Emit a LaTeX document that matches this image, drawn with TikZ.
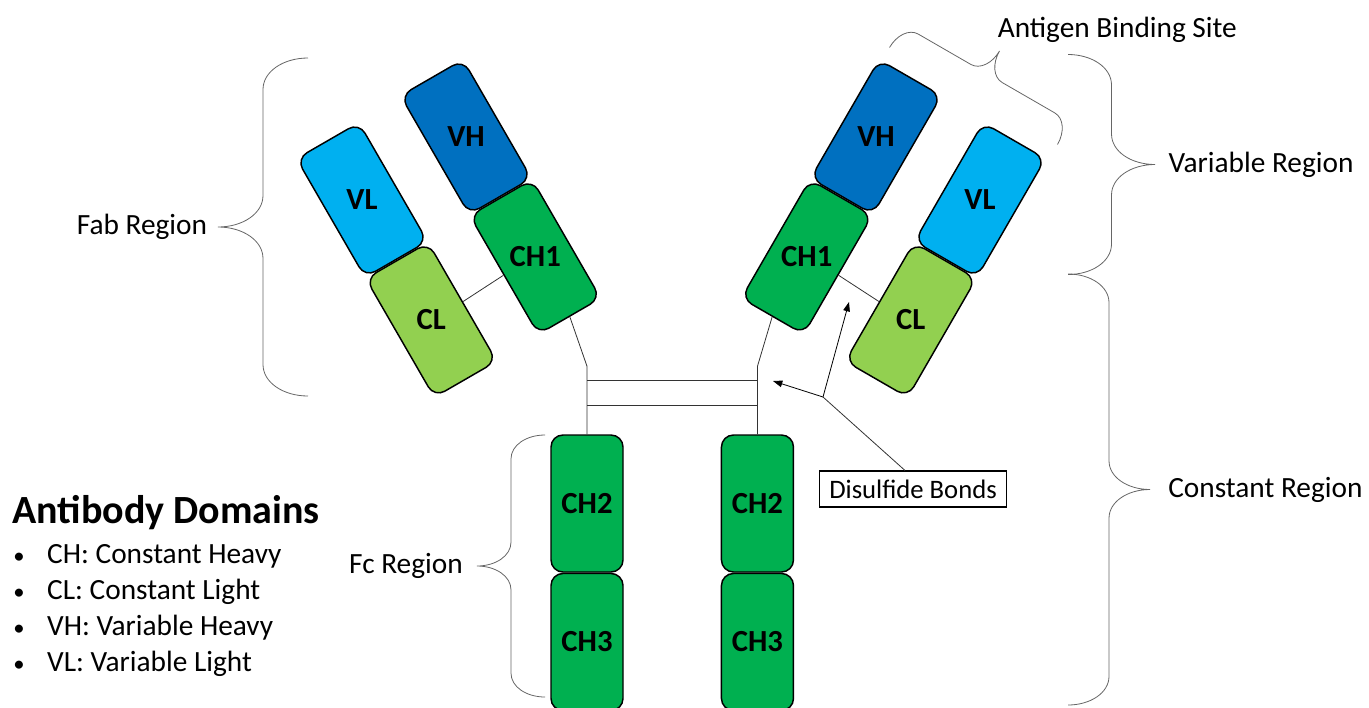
\documentclass[tikz,border=0pt]{standalone}
\usepackage{fontspec}
\setmainfont{Carlito}
\usetikzlibrary{calc}
\usetikzlibrary{positioning}
\usetikzlibrary{arrows.meta}

\definecolor{vhblue}{HTML}{0070C0}
\definecolor{vlblue}{HTML}{00B0F0}
\definecolor{chgreen}{HTML}{00B050}
\definecolor{clgreen}{HTML}{92D050}

\tikzset{
  abdomain/.style={draw=black, line width=1.1pt, rounded corners=9pt, inner sep=0pt,
    minimum width=54pt, minimum height=102.75pt, font=\fontsize{23}{26}\selectfont\bfseries},
  vh/.style={abdomain, fill=vhblue},
  vl/.style={abdomain, fill=vlblue},
  ch/.style={abdomain, fill=chgreen},
  cl/.style={abdomain, fill=clgreen},
  dtext/.style={inner sep=0pt, font=\fontsize{23}{26}\selectfont\bfseries},
  link/.style={draw=black!80, line width=0.6pt},
  tag/.style={inner sep=0pt, font=\fontsize{22}{26}\selectfont},
  pics/curly/.style args={#1 and #2}{code={
    \draw[black!60, line width=0.6pt] (0,{-#1})
      .. controls ({-0.55*#2},{-#1}) and ({-#2},{-#1+0.3*#2}) .. ({-#2},{-#1+0.7*#2})
      -- ({-#2},{-0.7*#2})
      .. controls ({-#2},{-0.3*#2}) and ({-1.45*#2},0) .. ({-2*#2},0)
      .. controls ({-1.45*#2},0) and ({-#2},{0.3*#2}) .. ({-#2},{0.7*#2})
      -- ({-#2},{#1-0.7*#2})
      .. controls ({-#2},{#1-0.3*#2}) and ({-0.55*#2},{#1}) .. (0,{#1});
    \coordinate (-tip) at ({-2*#2},0);
  }},
}

\begin{document}
\begin{tikzpicture}[x=0.75pt, y=-0.75pt]
  \useasboundingbox (0,0) rectangle (1369,707);

  % left arm
  \node [vh, rotate=30] (lvh) at (466,137) {};
  \node [ch, rotate=30, anchor=north] (lch1) at (lvh.south) {};
  \node [vl, rotate=30] (lvl) at (362,200) {};
  \node [cl, rotate=30, anchor=north] (lcl) at (lvl.south) {};

  % right arm
  \node [vh, rotate=-30] (rvh) at (876,137) {};
  \node [ch, rotate=-30, anchor=north] (rch1) at (rvh.south) {};
  \node [vl, rotate=-30] (rvl) at (980,200) {};
  \node [cl, rotate=-30, anchor=north] (rcl) at (rvl.south) {};

  % upright labels on the tilted domains
  \node [dtext] at (lvh) {VH};
  \node [dtext] at (lch1) {CH1};
  \node [dtext] at (lvl) {VL};
  \node [dtext] at (lcl) {CL};
  \node [dtext] at (rvh) {VH};
  \node [dtext] at (rch1) {CH1};
  \node [dtext] at (rvl) {VL};
  \node [dtext] at (rcl) {CL};

  % Fc stem
  \node [ch] (lch2) at (587,503.5) {CH2};
  \node [ch, below=0pt of lch2] (lch3) {CH3};
  \node [ch, right=72.75pt of lch2] (rch2) {CH2};
  \node [ch, below=0pt of rch2] (rch3) {CH3};

  % hinge and bonds
  \coordinate (lknee) at ($(lch2.north)+(0,-68)$);
  \coordinate (rknee) at ($(rch2.north)+(0,-68)$);
  \draw [link] (lch1.south) -- (lknee) -- (lch2.north);
  \draw [link] (rch1.south) -- (rknee) -- (rch2.north);
  \draw [link] ($(lknee)+(0,14)$) -- ($(rknee)+(0,14)$);
  \draw [link] ($(lknee)+(0,39)$) -- ($(rknee)+(0,39)$);
  \draw [link] (lch1.west) -- (lcl.east);
  \draw [link] (rch1.east) -- (rcl.west);

  % callout
  \node [draw, line width=0.8pt, minimum width=140pt, minimum height=27pt, inner sep=0pt,
    font=\fontsize{20}{24}\selectfont] (bonds) at (913,489) {Disulfide Bonds};
  \coordinate (split) at (823,397);
  \coordinate (hingetip) at (773,381);
  \coordinate (lighttip) at (849,302);
  \draw [link] ($(bonds.north)+(-8,0)$) -- (split);
  \draw [link, draw=black, -{Triangle[length=7pt,width=5pt]}] (split) -- (hingetip);
  \draw [link, draw=black, -{Triangle[length=7pt,width=5pt]}] (split) -- (lighttip);

  % braces
  \pic (fabbrace) at (308,227) {curly=169 and 45};
  \node [tag, anchor=east] at ([xshift=-8pt]fabbrace-tip) {Fab Region};
  \pic (fcbrace) at (545,566) {curly=131 and 34};
  \node [tag, anchor=east] at ([xshift=-10.5pt]fcbrace-tip) {Fc Region};
  \pic [rotate=180] (varbrace) at (1068,164.5) {curly=110 and 43.5};
  \node [tag, anchor=west] at ([xshift=10pt]varbrace-tip) {Variable Region};
  \pic [rotate=180] (constbrace) at (1068,489.5) {curly=215.5 and 41};
  \node [tag, anchor=west] at ([xshift=13.5pt]constbrace-tip) {Constant Region};
  \pic [rotate=-120] (abbrace) at (973.5,96) {curly=97 and 26};
  \node [tag, anchor=south west] at ([xshift=-1.5pt, yshift=6pt]abbrace-tip) {Antigen Binding Site};

  % legend
  \node [anchor=west, inner sep=0pt, font=\fontsize{30}{34}\selectfont\bfseries] (legend) at (12,513) {Antibody Domains};
  \node [anchor=north west, inner sep=0pt, align=left, font=\fontsize{22}{27}\selectfont] (items) at (13,544)
    {{\fontsize{17}{17}\selectfont\textbullet}\hspace{17pt}CH: Constant Heavy\\
     {\fontsize{17}{17}\selectfont\textbullet}\hspace{17pt}CL: Constant Light\\
     {\fontsize{17}{17}\selectfont\textbullet}\hspace{17pt}VH: Variable Heavy\\
     {\fontsize{17}{17}\selectfont\textbullet}\hspace{17pt}VL: Variable Light};
\end{tikzpicture}
\end{document}
